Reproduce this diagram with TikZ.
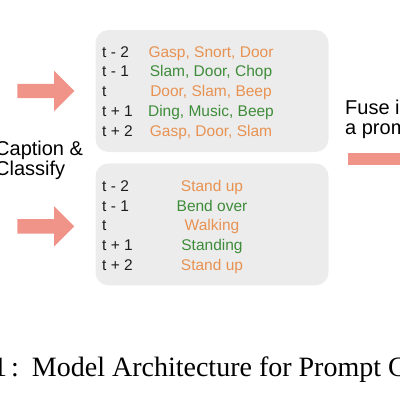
\documentclass[tikz,border=0pt]{standalone}
\usepackage{fontspec}
\setmainfont{Liberation Sans}
\newfontfamily\capfont{Liberation Serif}
\usetikzlibrary{positioning,shapes.arrows}
\definecolor{boxgray}{RGB}{236,236,236}
\definecolor{arrowpink}{RGB}{240,148,138}
\definecolor{evorange}{RGB}{232,146,82}
\definecolor{evgreen}{RGB}{62,140,58}
\definecolor{labelgray}{RGB}{30,30,30}
\tikzset{
  panel/.style={fill=boxgray, rounded corners=13pt, minimum width=233pt,
    minimum height=122pt, inner sep=0pt},
  bigarrow/.style={single arrow, fill=arrowpink, minimum height=57pt,
    inner sep=7pt, single arrow head extend=13pt, outer sep=0pt},
  steplabel/.style={text=labelgray, font=\fontsize{15.5}{18}\selectfont,
    anchor=base west, inner sep=0pt},
  event/.style={font=\fontsize{15.5}{18}\selectfont, anchor=base, inner sep=0pt},
  sidetext/.style={font=\fontsize{20}{20.5}\selectfont, align=left,
    inner sep=0pt, anchor=base west}
}

\begin{document}
\begin{tikzpicture}[x=1pt, y=-1pt]
      \useasboundingbox (0,0) rectangle (400,400);

      % the two panels
      \node [panel] (sounds) at (212,91) {};
      \node [panel, below=11pt of sounds] (poses) {};

      \node [bigarrow, left=21pt of sounds] (soundsin) {};
      \node [bigarrow, left=21pt of poses, yshift=-2pt] (posesin) {};

      % base is the last line here
      \node [sidetext] (stage) at (-5,175.5) {Caption \&\\Classify};
      \node [sidetext] (fuse) at (345,134.5) {Fuse into\\a prompt};

      % rows of the audio panel
      \foreach \lab/\txt/\col [count=\i] in {t - 2/{Gasp, Snort, Door}/evorange,
          t - 1/{Slam, Door, Chop}/evgreen, t/{Door, Slam, Beep}/evorange,
          t + 1/{Ding, Music, Beep}/evgreen, t + 2/{Gasp, Door, Slam}/evorange} {
        \node [steplabel] (s-\i) at (102, 57+19.8*\i-19.8) {\lab};
        \node [event, text=\col] (se-\i) at (211, 57+19.8*\i-19.8) {\txt};
      }

      % rows of the pose panel
      \foreach \lab/\txt/\col [count=\i] in {t - 2/Stand up/evorange,
          t - 1/Bend over/evgreen, t/Walking/evorange,
          t + 1/Standing/evgreen, t + 2/Stand up/evorange} {
        \node [steplabel] (p-\i) at (102, 191.5+19.7*\i-19.7) {\lab};
        \node [event, text=\col] (pe-\i) at (212, 191.5+19.7*\i-19.7) {\txt};
      }

      \coordinate (fuseout) at (348,159);
      \coordinate (fuseend) at (400,159);
      \draw [arrowpink, line width=12pt] (fuseout) -- (fuseend);

      \node [anchor=base west, inner sep=0pt, font=\capfont\fontsize{28}{30}\selectfont]
        (figcap) at (-7,376) {1\hspace{4pt}:\hspace{13pt}Model Architecture for Prompt C};
    \end{tikzpicture}
\end{document}
